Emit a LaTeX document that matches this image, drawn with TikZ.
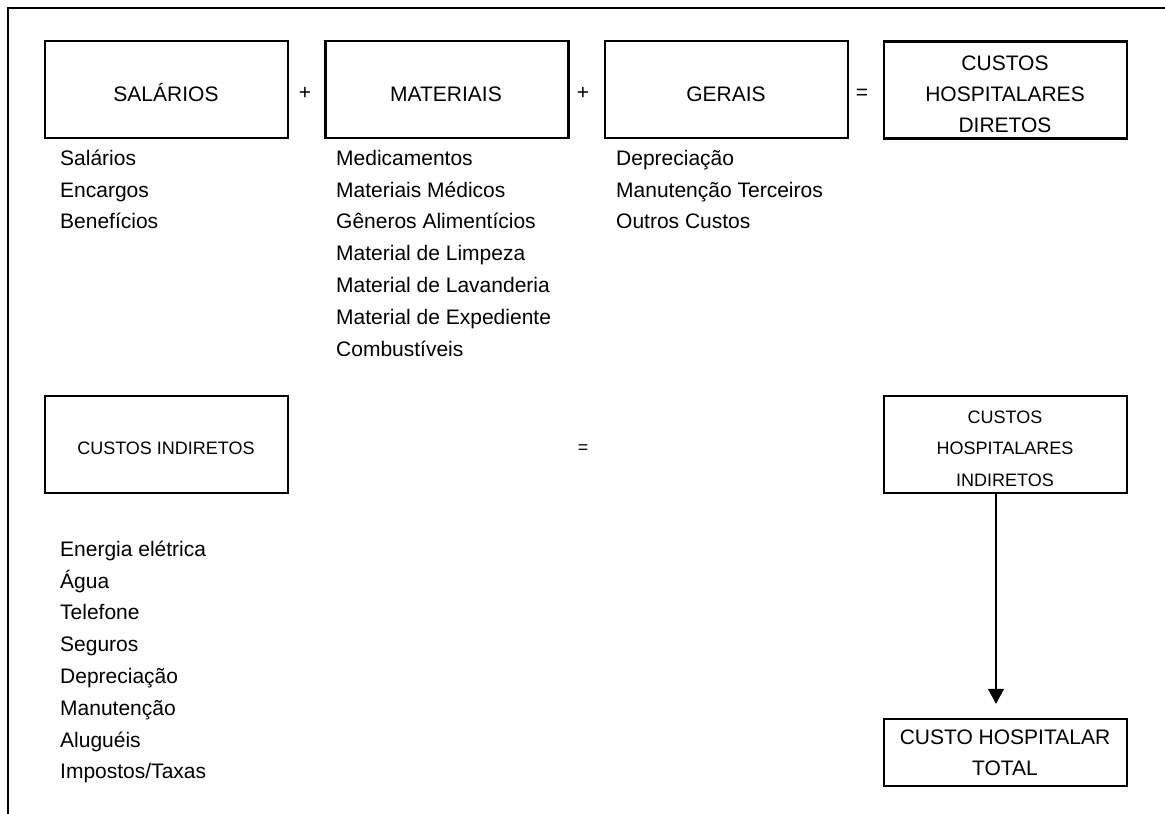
\documentclass[tikz,border=0pt]{standalone}
\usepackage{fontspec}
\setmainfont{Liberation Sans}
\usetikzlibrary{arrows.meta}
\tikzset{
  box/.style={draw, line width=2.4pt, minimum width=243pt, minimum height=97pt, inner sep=0pt},
  big/.style={font=\fontsize{21}{31}\selectfont, inner sep=0pt},
  small/.style={font=\fontsize{18}{31}\selectfont, inner sep=0pt},
  item/.style={big, anchor=base west},
  ctr/.style={big, anchor=base},
  sctr/.style={small, anchor=base},
}
\begin{document}
\begin{tikzpicture}[x=1pt,y=-1pt]
\useasboundingbox (0,0) rectangle (1165,814);
% outer frame
\draw[line width=2.4pt] (8,820) -- (8,8) -- (1170,8);

% top row boxes
\node[box] (sal) at (166.5,89.5) {};
\node[box] (mat) at (447,89.5) {};
\node[box] (ger) at (726.5,89.5) {};
\node[box] (dir) at (1005.5,90) {};
\node[ctr] (salT) at (166,101) {SALÁRIOS};
\node[ctr] (matT) at (446,101) {MATERIAIS};
\node[ctr] (gerT) at (726,101) {GERAIS};
\node[ctr] (dirT1) at (1005,70) {CUSTOS};
\node[ctr] (dirT2) at (1005,101) {HOSPITALARES};
\node[ctr] (dirT3) at (1005,132) {DIRETOS};
\node[ctr] (p1) at (305,99) {+};
\node[ctr] (p2) at (583,99) {+};
\node[ctr] (e1) at (862,99) {=};

% lists under top boxes
\node[item] (s1) at (60,165.5) {Salários};
\node[item] (s2) at (60,197) {Encargos};
\node[item] (s3) at (60,228.5) {Benefícios};

\node[item] (m1) at (336,165.5) {Medicamentos};
\node[item] (m2) at (336,197) {Materiais Médicos};
\node[item] (m3) at (336,228.5) {Gêneros Alimentícios};
\node[item] (m4) at (336,260.5) {Material de Limpeza};
\node[item] (m5) at (336,292.5) {Material de Lavanderia};
\node[item] (m6) at (336,324.5) {Material de Expediente};
\node[item] (m7) at (336,356.5) {Combustíveis};

\node[item] (g1) at (616,165.5) {Depreciação};
\node[item] (g2) at (616,197) {Manutenção Terceiros};
\node[item] (g3) at (616,228.5) {Outros Custos};

% second row
\node[box] (ind) at (166.5,444.5) {};
\node[sctr] (indT) at (166,454) {CUSTOS INDIRETOS};
\node[sctr] (e2) at (583,453) {=};
\node[box] (hind) at (1005.5,444.5) {};
\node[sctr] (hindT1) at (1005,423.5) {CUSTOS};
\node[sctr] (hindT2) at (1005,454.5) {HOSPITALARES};
\node[sctr] (hindT3) at (1005,486) {INDIRETOS};

\node[item] (i1) at (60,556.5) {Energia elétrica};
\node[item] (i2) at (60,588.5) {Água};
\node[item] (i3) at (60,619.5) {Telefone};
\node[item] (i4) at (60,651.5) {Seguros};
\node[item] (i5) at (60,683.5) {Depreciação};
\node[item] (i6) at (60,715.5) {Manutenção};
\node[item] (i7) at (60,747.5) {Aluguéis};
\node[item] (i8) at (60,778.5) {Impostos/Taxas};

% total box
\node[box, minimum height=67pt] (tot) at (1005.5,752.5) {};
\node[ctr] (totT1) at (1005,744.5) {CUSTO HOSPITALAR};
\node[ctr] (totT2) at (1005,775.5) {TOTAL};

% arrow
\draw[line width=1.6pt, -{Triangle[width=16pt,length=15pt]}, shorten >=14pt]
  ([xshift=-9.5pt]hind.south) -- ([xshift=-9.5pt]tot.north);
\end{tikzpicture}
\end{document}
